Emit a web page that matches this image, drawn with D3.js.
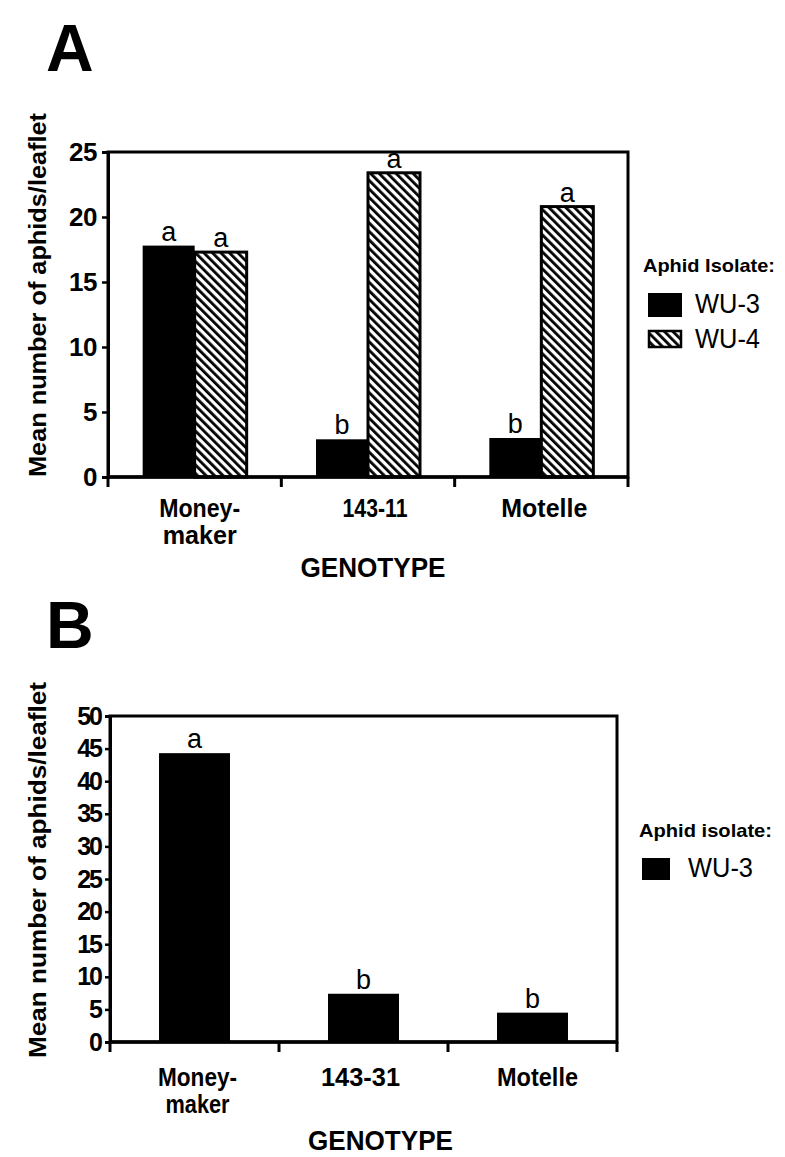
<!DOCTYPE html>
<html>
<head>
<meta charset="utf-8">
<script src="https://cdn.jsdelivr.net/npm/d3@7"></script>
<style>
  html, body { margin: 0; padding: 0; background: #fff; }
  svg { display: block; }
  text { font-family: "Liberation Sans", Arial, Helvetica, sans-serif; fill: #000; }
</style>
</head>
<body>
<svg id="chart" width="785" height="1157"></svg>
<script>
// ---------- DATA ----------
const categoriesA = ["Moneymaker", "143-11", "Motelle"];
const tickLinesA = [["Money-", "maker"], ["143-11"], ["Motelle"]];
const seriesA = ["WU-3", "WU-4"];
const wu3A = [17.8, 2.9, 3.0];
const wu4A = [17.3, 23.4, 20.8];
const lettersWu3A = ["a", "b", "b"];
const lettersWu4A = ["a", "a", "a"];
const yTicksA = [0, 5, 10, 15, 20, 25];

const categoriesB = ["Moneymaker", "143-31", "Motelle"];
const tickLinesB = [["Money-", "maker"], ["143-31"], ["Motelle"]];
const seriesB = ["WU-3"];
const wu3B = [44.3, 7.4, 4.5];
const lettersB = ["a", "b", "b"];
const yTicksB = [0, 5, 10, 15, 20, 25, 30, 35, 40, 45, 50];

// ---------- SETUP ----------
const svg = d3.select("#chart");
const defs = svg.append("defs");
const pat = defs.append("pattern")
  .attr("id", "hatch")
  .attr("patternUnits", "userSpaceOnUse")
  .attr("width", 6).attr("height", 6)
  .attr("patternTransform", "rotate(-45)");
pat.append("rect").attr("width", 6).attr("height", 6).attr("fill", "#fff");
pat.append("rect").attr("x", 0).attr("y", 0).attr("width", 2.8).attr("height", 6).attr("fill", "#000");

function fillFor(s) { return s === "WU-4" ? "url(#hatch)" : "#000"; }

function drawPanel(cfg) {
  const g = svg.append("g");
  const x = d3.scaleBand().domain(cfg.categories).range(cfg.xRange)
    .paddingInner(cfg.padIn).paddingOuter(cfg.padOut);
  const x1 = d3.scaleBand().domain(cfg.series).range([0, x.bandwidth()]);
  const y = d3.scaleLinear().domain(cfg.yDomain).range(cfg.yRange);

  // panel letter
  g.append("text").attr("x", cfg.letterPos[0]).attr("y", cfg.letterPos[1])
    .attr("font-size", 66).attr("font-weight", "bold").text(cfg.letter);

  // bars
  cfg.series.forEach((s, si) => {
    const vals = cfg.values[si];
    g.selectAll(null).data(cfg.categories).enter().append("rect")
      .attr("x", (c) => x(c) + x1(s))
      .attr("y", (c, i) => y(vals[i]))
      .attr("width", x1.bandwidth())
      .attr("height", (c, i) => y(0) - y(vals[i]))
      .attr("fill", fillFor(s))
      .attr("stroke", s === "WU-4" ? "#000" : "none")
      .attr("stroke-width", 3);
    g.selectAll(null).data(cfg.categories).enter().append("text")
      .attr("x", (c) => x(c) + x1(s) + x1.bandwidth() / 2)
      .attr("y", (c, i) => y(vals[i]) - 5)
      .attr("text-anchor", "middle")
      .attr("font-size", 27)
      .text((c, i) => cfg.letters[si][i]);
  });

  // frame
  const [x0, xEnd] = cfg.xRange;
  g.append("rect")
    .attr("x", x0).attr("y", y(cfg.yDomain[1]))
    .attr("width", xEnd - x0).attr("height", y(0) - y(cfg.yDomain[1]))
    .attr("fill", "none").attr("stroke", "#000").attr("stroke-width", 3);

  // y axis
  const ya = g.append("g").attr("transform", `translate(${x0},0)`)
    .call(d3.axisLeft(y).tickValues(cfg.yTicks).tickSize(cfg.yTickSize).tickPadding(cfg.yTickPad));
  ya.select(".domain").attr("stroke-width", 3);
  ya.selectAll(".tick line").attr("stroke-width", 2.5);
  ya.selectAll(".tick text")
    .attr("font-family", '"Liberation Sans", Arial, sans-serif')
    .attr("font-size", cfg.yFont).attr("font-weight", "bold")
    .attr("letter-spacing", cfg.yLetterSpacing).attr("fill", "#000");

  // x axis baseline and boundary ticks
  g.append("line").attr("x1", x0).attr("x2", xEnd).attr("y1", y(0)).attr("y2", y(0))
    .attr("stroke", "#000").attr("stroke-width", 3.5);
  const edges = cfg.categories.map((c) => x(c) - x.step() * x.paddingInner() / 2);
  edges[0] = x0;
  edges.push(xEnd);
  g.selectAll(null).data(edges).enter().append("line")
    .attr("x1", (d) => d).attr("x2", (d) => d)
    .attr("y1", y(0)).attr("y2", y(0) + 10)
    .attr("stroke", "#000").attr("stroke-width", 3);

  // x tick labels (condensed bold)
  cfg.categories.forEach((c, i) => {
    const cx = x(c) + x.bandwidth() / 2 + cfg.xLabelShift[i];
    cfg.tickLines[i].forEach((ln, k) => {
      g.append("text")
        .attr("x", cx)
        .attr("y", cfg.xLabelY + k * cfg.xLineGap)
        .attr("text-anchor", "middle")
        .attr("font-size", cfg.xFont).attr("font-weight", "bold")
        .attr("textLength", cfg.xLabelLen[i][k]).attr("lengthAdjust", "spacingAndGlyphs")
        .text(ln);
    });
  });

  // x title
  g.append("text").attr("x", (x0 + xEnd) / 2 + cfg.xTitleShift).attr("y", cfg.xTitleY)
    .attr("text-anchor", "middle").attr("font-size", 27).attr("font-weight", "bold")
    .attr("textLength", 145).attr("lengthAdjust", "spacingAndGlyphs")
    .text("GENOTYPE");

  // y title
  g.append("text")
    .attr("transform", `translate(46,${cfg.yTitleCenter}) rotate(-90)`)
    .attr("text-anchor", "middle").attr("font-size", 24).attr("font-weight", "bold")
    .attr("textLength", cfg.yTitleLen).attr("lengthAdjust", "spacingAndGlyphs")
    .text("Mean number of aphids/leaflet");

  // legend
  const L = cfg.legend;
  g.append("text").attr("x", L.x).attr("y", L.titleY)
    .attr("font-size", 19).attr("font-weight", "bold")
    .attr("textLength", L.titleLen).attr("lengthAdjust", "spacingAndGlyphs")
    .text(L.title);
  cfg.series.forEach((s, si) => {
    const it = L.items[si];
    g.append("rect").attr("x", it.sx).attr("y", it.sy).attr("width", it.sw).attr("height", it.sh)
      .attr("fill", fillFor(s))
      .attr("stroke", s === "WU-4" ? "#000" : "none").attr("stroke-width", 2.5);
    g.append("text").attr("x", it.tx).attr("y", it.ty)
      .attr("font-size", 28)
      .attr("textLength", 65).attr("lengthAdjust", "spacingAndGlyphs")
      .text(s);
  });
}

drawPanel({
  letter: "A", letterPos: [46, 71],
  categories: categoriesA, tickLines: tickLinesA, series: seriesA,
  values: [wu3A, wu4A], letters: [lettersWu3A, lettersWu4A],
  xRange: [108, 628], padIn: 0.4, padOut: 0.2,
  yDomain: [0, 25], yRange: [477, 152], yTicks: yTicksA,
  yTickSize: 6, yTickPad: 5, yFont: 26, yLetterSpacing: -0.5,
  xLabelY: 517, xLineGap: 27, xFont: 25,
  xLabelShift: [5, 7, 3],
  xLabelLen: [[81, 74], [65], [86]],
  xTitleY: 577, xTitleShift: 5,
  yTitleCenter: 295, yTitleLen: 364,
  legend: {
    title: "Aphid Isolate:", x: 643, titleY: 272, titleLen: 132,
    items: [
      { sx: 648, sy: 293, sw: 34, sh: 24, tx: 695, ty: 313 },
      { sx: 649, sy: 331, sw: 32, sh: 16, tx: 695, ty: 348 }
    ]
  }
});

drawPanel({
  letter: "B", letterPos: [46, 648],
  categories: categoriesB, tickLines: tickLinesB, series: seriesB,
  values: [wu3B], letters: [lettersB],
  xRange: [110, 617], padIn: 0.58, padOut: 0.29,
  yDomain: [0, 50], yRange: [1042, 716], yTicks: yTicksB,
  yTickSize: 5, yTickPad: 4, yFont: 25, yLetterSpacing: -2,
  xLabelY: 1086, xLineGap: 27, xFont: 25,
  xLabelShift: [3, -3, 5],
  xLabelLen: [[79, 64], [79], [81]],
  xTitleY: 1150, xTitleShift: 17,
  yTitleCenter: 870, yTitleLen: 376,
  legend: {
    title: "Aphid isolate:", x: 639, titleY: 837, titleLen: 133,
    items: [
      { sx: 642, sy: 858, sw: 28, sh: 22, tx: 688, ty: 877 }
    ]
  }
});
</script>
</body>
</html>
